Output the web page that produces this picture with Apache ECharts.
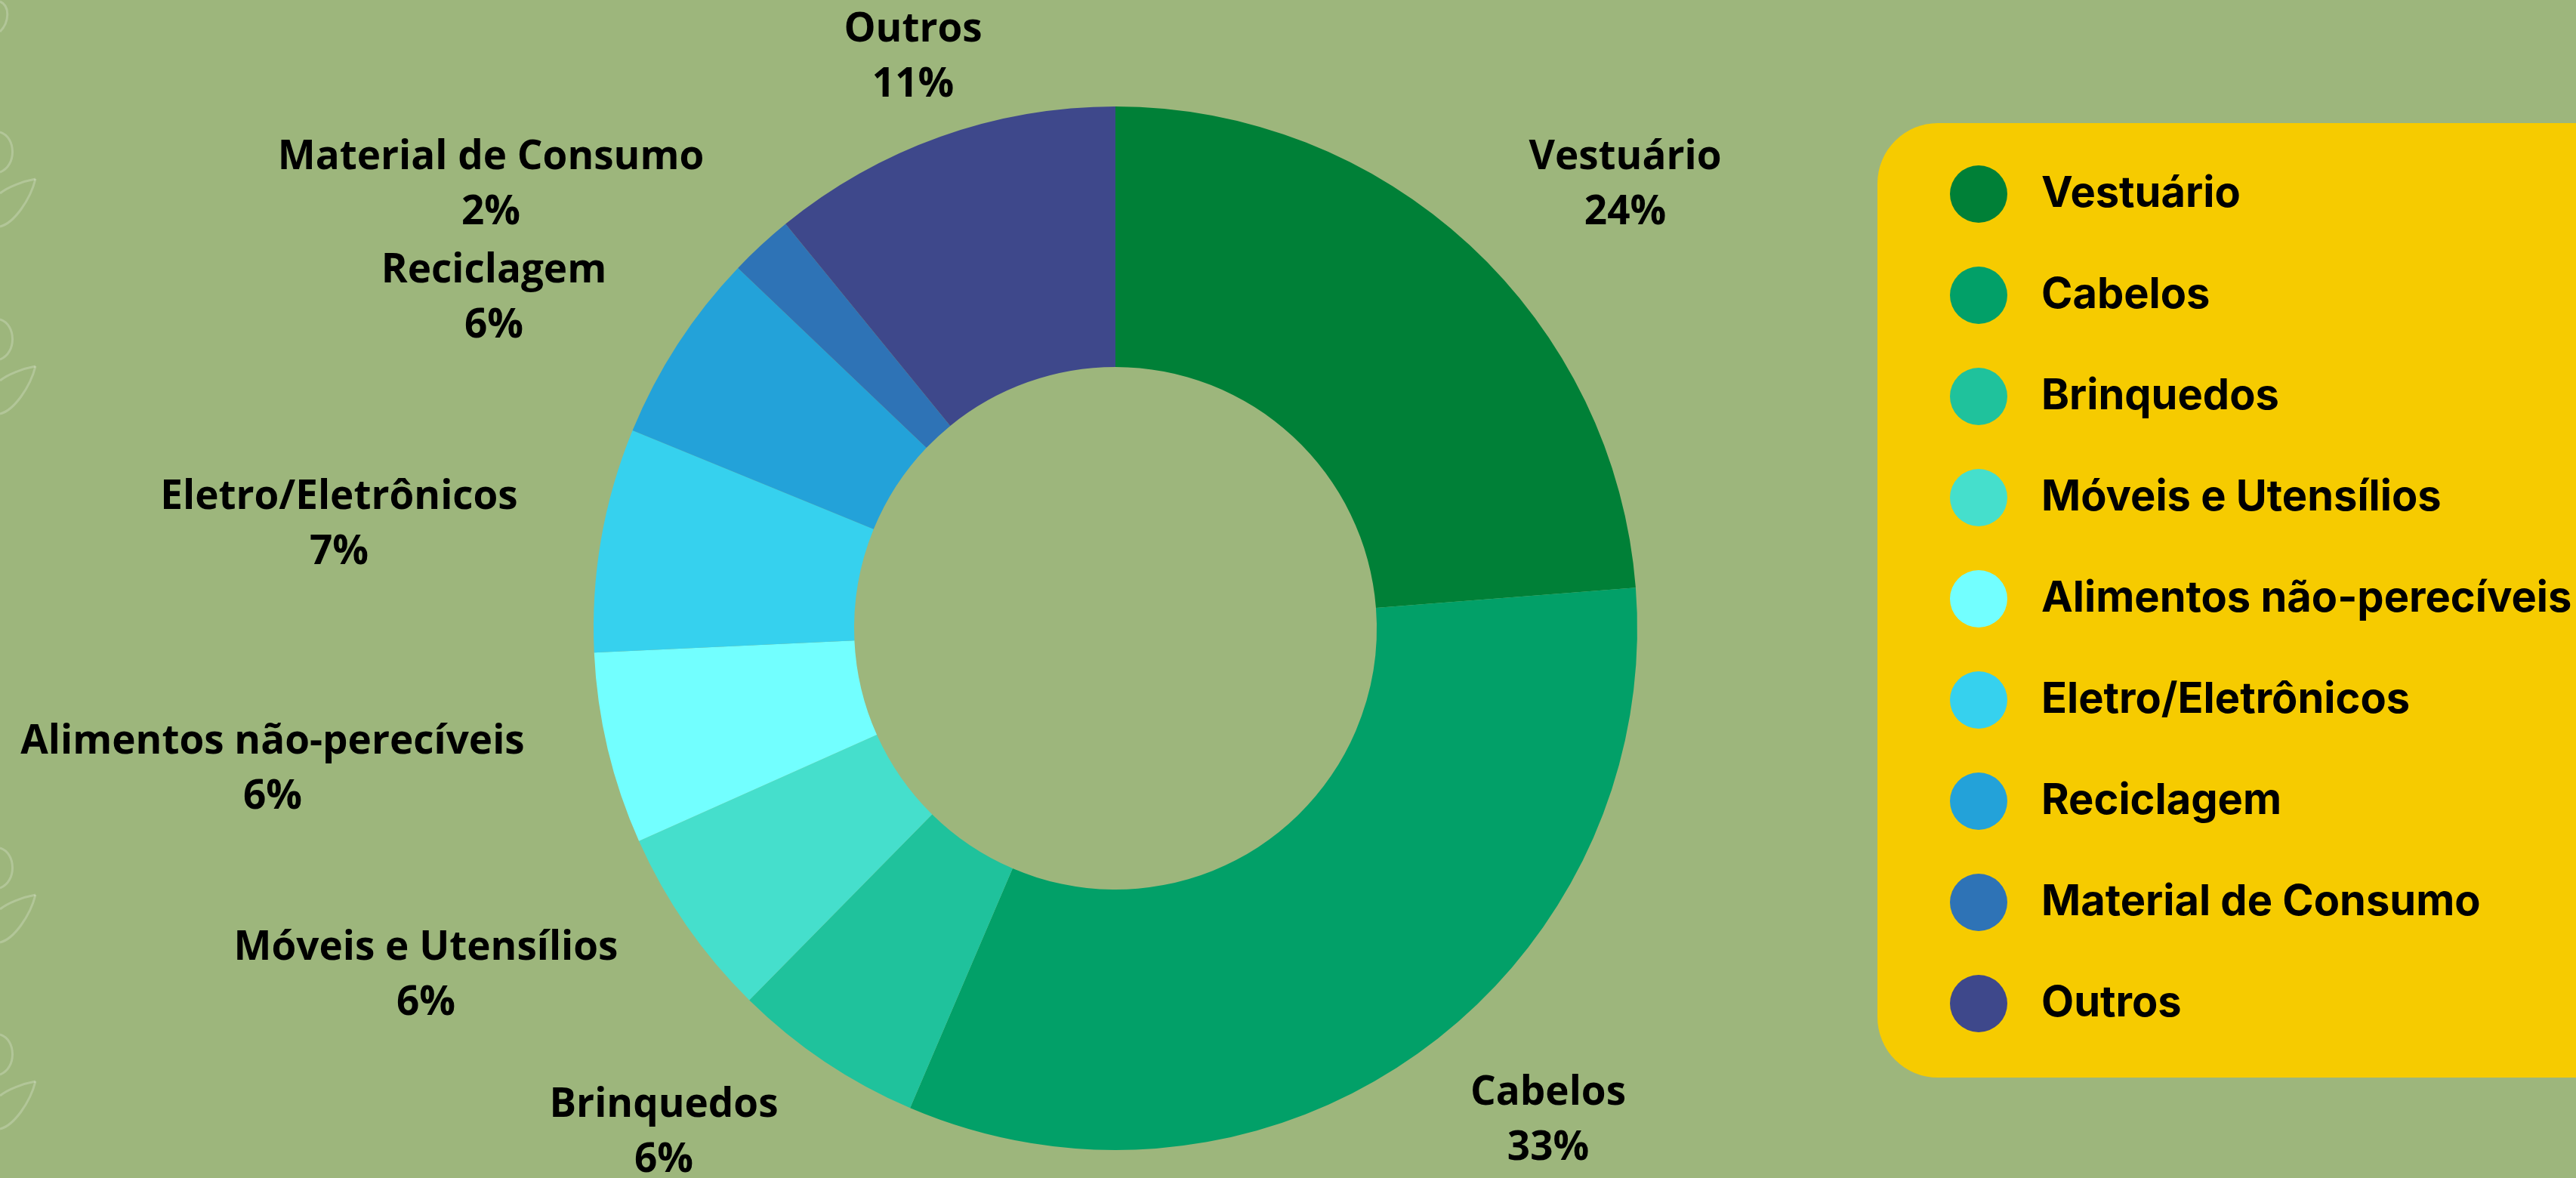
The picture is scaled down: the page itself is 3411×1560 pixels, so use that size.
<!DOCTYPE html>
<html>
<head>
<meta charset="utf-8">
<script src="https://cdn.jsdelivr.net/npm/echarts@6/dist/echarts.min.js"></script>
<style>
html, body { margin: 0; padding: 0; background: #9DB67C; }
#chart { width: 3411px; height: 1560px; }
</style>
</head>
<body>
<div id="chart"></div>
<script>
// categorias e valores (%)
var categorias = ["Vestuário", "Cabelos", "Brinquedos", "Móveis e Utensílios", "Alimentos não-perecíveis",
    "Eletro/Eletrônicos", "Reciclagem", "Material de Consumo", "Outros"];
var valores = [24, 33, 6, 6, 6, 7, 6, 2, 11];
var cores = ["#008037", "#02A068", "#1FC29C", "#45DFCC", "#72FFFF", "#36D1EE", "#23A2D9", "#2E73B6", "#3E488B"];

// posição dos rótulos (centro do bloco de texto)
var posRotulos = [[2152, 245], [2050, 1484], [879, 1500], [564, 1292], [361, 1019],
    [449, 695], [654, 395], [650, 245], [1209, 76]];

// folhas decorativas na borda esquerda
var folhasY = [300, 548, 1248, 1495];

var chart = echarts.init(document.getElementById("chart"));

var traco = { fill: null, stroke: "rgba(255,255,255,0.22)", lineWidth: 3 };
function curva(x1, y1, cx1, cy1, cx2, cy2, x2, y2){
    return {
        type: "bezierCurve",
        shape: { x1: x1, y1: y1, cpx1: cx1, cpy1: cy1, cpx2: cx2, cpy2: cy2, x2: x2, y2: y2 },
        style: traco,
        silent: true
    };
}
var folhas = [];
folhasY.forEach(function(y){
    folhas.push(curva(0, y - 125, 22, y - 118, 22, y - 80, 0, y - 72));
    folhas.push(curva(0, y, 18, y - 4, 40, y - 35, 47, y - 63));
    folhas.push(curva(47, y - 63, 30, y - 60, 10, y - 52, 0, y - 44));
});
folhas.push(curva(0, 2, 14, 8, 12, 30, 0, 42));

var dados = categorias.map(function(c, i){
    return { name: c, value: valores[i], itemStyle: { color: cores[i] } };
});

var option = {
    backgroundColor: "#9DB67C",
    animation: false,
    graphic: { elements: folhas },
    legend: {
        orient: "vertical",
        left: 2486,
        top: 163,
        padding: [56, 260, 60, 96],
        backgroundColor: "#F6CB00",
        borderRadius: [80, 0, 0, 80],
        icon: "circle",
        itemWidth: 76,
        itemHeight: 76,
        itemGap: 58,
        data: categorias,
        textStyle: {
            fontFamily: "Inter",
            fontWeight: 700,
            fontSize: 56,
            lineHeight: 70,
            color: "#000",
            padding: [0, 0, 0, 40]
        }
    },
    series: [{
        type: "pie",
        center: [1477, 832],
        radius: [346, 691],
        startAngle: 90,
        clockwise: true,
        data: dados,
        itemStyle: { borderWidth: 0 },
        label: {
            show: true,
            position: "outside",
            formatter: "{b}\n{c}%",
            fontFamily: "Open Sans",
            fontWeight: "bold",
            fontSize: 53,
            lineHeight: 73,
            color: "#000",
            align: "center"
        },
        labelLine: { show: false },
        labelLayout: function(params){
            var p = posRotulos[params.dataIndex];
            return { x: p[0], y: p[1], align: "center", verticalAlign: "middle" };
        },
        emphasis: { disabled: true }
    }]
};
chart.setOption(option);
</script>
</body>
</html>
